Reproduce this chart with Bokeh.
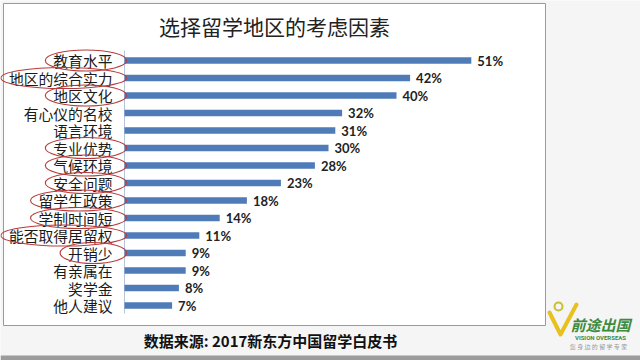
from bokeh.plotting import figure
from bokeh.models import Range1d, ColumnDataSource
from bokeh.core.properties import value
from bokeh.embed import file_html
from bokeh.resources import INLINE

title_text = "选择留学地区的考虑因素"
source_text = "数据来源: 2017新东方中国留学白皮书"
factors = ["教育水平", "地区的综合实力", "地区文化", "有心仪的名校", "语言环境",
           "专业优势", "气候环境", "安全问题", "留学生政策", "学制时间短",
           "能否取得居留权", "开销少", "有亲属在", "奖学金", "他人建议"]
percents = [51, 42, 40, 32, 31, 30, 28, 23, 18, 14, 11, 9, 9, 8, 7]
circled = [True, True, True, False, False, True, True, True, True, True,
           True, True, False, False, False]

W, H = 640, 360
AX = 124        # pixel x of the value axis
PX_PER = 6.8    # pixels per percent
ROW0 = 60       # pixel y of first row
ROW_H = 17.5    # pixels between rows
CHAR_W = 14.8
CJK = value("Noto Sans CJK SC")


def dx(px):
    return (px - AX) / PX_PER


def dy(py):
    return (py - ROW0) / ROW_H


p = figure(width=W, height=H, output_backend="svg", toolbar_location=None,
           x_range=Range1d(dx(0), dx(W)), y_range=Range1d(dy(H), dy(0)),
           min_border=0, x_axis_location=None, y_axis_location=None)
p.grid.visible = False
p.outline_line_color = None
p.background_fill_color = "#f5f5f5"
p.border_fill_color = "#f5f5f5"

# chart frame
p.quad(left=[dx(3)], right=[dx(545)], top=[dy(3)], bottom=[dy(325)],
       fill_color="white", line_color="#9a9a9a", line_width=1)
# bottom strip
p.quad(left=[dx(0)], right=[dx(640)], top=[dy(355)], bottom=[dy(360)],
       fill_color="#9c9c9c", line_color=None)

idx = list(range(len(factors)))
src = ColumnDataSource(dict(
    y=idx, v=percents, name=factors, lab=[f"{v}%" for v in percents]))

# axis line
p.segment(x0=[0], y0=[dy(50)], x1=[0], y1=[dy(313)], line_color="#b4c4da", line_width=1)

# bars
p.hbar(y="y", left=0, right="v", height=6.5 / ROW_H, source=src,
       fill_color="#4f7bb8", line_color=None)

# category labels
p.text(x=0, y="y", text="name", source=src, x_offset=-12,
       text_align="right", text_baseline="middle", text_font=CJK,
       text_font_size="14.8px", text_color="#1a1a1a")

# red ellipses around highlighted factors
ex, ey, ew = [], [], []
for i, (f, c) in enumerate(zip(factors, circled)):
    if c:
        tw = len(f) * CHAR_W
        ex.append(dx(AX - 12 - tw / 2 + 3))
        ey.append(i)
        ew.append(tw + 22)
p.ellipse(x=ex, y=ey, width=ew, height=21, width_units="screen", height_units="screen",
          fill_color=None, line_color="#b83a3a", line_width=1.1)

# value labels
p.text(x="v", y="y", text="lab", source=src, x_offset=6,
       text_align="left", text_baseline="middle", text_font=value("Lato"),
       text_font_style="bold", text_font_size="13px", text_color="#222222")

# title
p.text(x=[dx(274)], y=[dy(25)], text=[title_text], text_align="center",
       text_baseline="middle", text_font=CJK, text_font_size="21px",
       text_color="#222222")

# source
p.text(x=[dx(270)], y=[dy(340)], text=[source_text], text_align="center",
       text_baseline="middle", text_font=CJK, text_font_style="bold",
       text_font_size="15px", text_color="#111111")

# logo
p.line(x=[dx(549), dx(560), dx(576)], y=[dy(312), dy(334), dy(304)],
       line_color="#e8c020", line_width=4, line_join="round", line_cap="round")
p.circle(x=[dx(558)], y=[dy(306)], radius=4, radius_units="screen",
         fill_color=None, line_color="#c8c030", line_width=2)
p.text(x=[dx(600)], y=[dy(324)], text=["前途出国"], text_align="center",
       text_baseline="middle", text_font=CJK, text_font_style=value("bold italic"),
       text_font_size="15px", text_color="#3d8b3d")
p.text(x=[dx(600)], y=[dy(337)], text=["VISION OVERSEAS"], text_align="center",
       text_baseline="middle", text_font=value("Roboto"), text_font_style="bold",
       text_font_size="6px", text_color="#3d8b3d")
p.text(x=[dx(598)], y=[dy(346)], text=["您 身 边 的 留 学 专 家"], text_align="center",
       text_baseline="middle", text_font=CJK,
       text_font_size="6px", text_color="#9a9a9a")

open("out.html", "w").write(file_html(p, INLINE))
